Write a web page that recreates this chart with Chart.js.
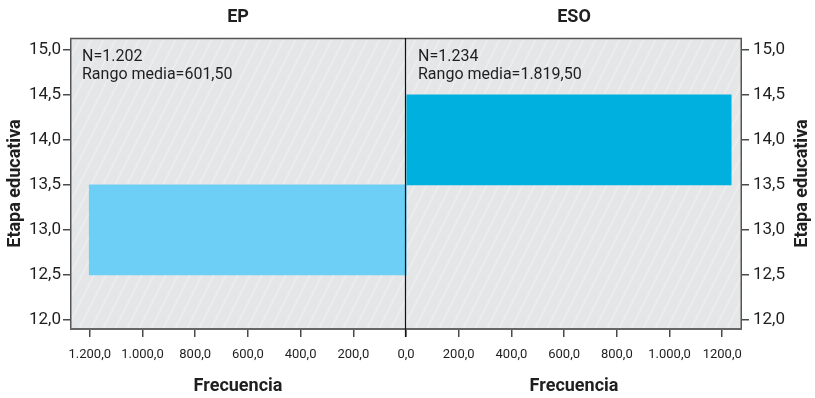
<!DOCTYPE html>
<html>
<head>
<meta charset="utf-8">
<script src="https://cdn.jsdelivr.net/npm/chart.js@4.4.1/dist/chart.umd.min.js"></script>
<style>
  html, body { margin: 0; padding: 0; background: #ffffff; }
  #wrap { position: relative; width: 815px; height: 398px; }
</style>
</head>
<body>
<div id="wrap"><canvas id="c" width="815" height="398"></canvas></div>
<script>
// Etapa educativa bins (centre of each one-unit bin) and counts per group
const etapa = [13, 14];
const epCounts = [1202, 0];
const esoCounts = [0, 1234];

const panelTitles = ['EP', 'ESO'];
const panelNotes = [
  ['N=1.202', 'Rango media=601,50'],
  ['N=1.234', 'Rango media=1.819,50']
];

// Frequency tick labels for 0, 200, ..., 1200
const freqTicks = [0, 200, 400, 600, 800, 1000, 1200];
const leftFreqLabels = ['0,0', '200,0', '400,0', '600,0', '800,0', '1.000,0', '1.200,0'];
const rightFreqLabels = ['', '200,0', '400,0', '600,0', '800,0', '1.000,0', '1200,0'];

const yTitle = 'Etapa educativa';
const xTitle = 'Frecuencia';

const FONT = 'Roboto, "Liberation Sans", sans-serif';
const TEXT = '#1f1f1f';
const AXIS = '#4a4a4a';

function pairs(counts) {
  return etapa.map((e, i) => ({ y: e, x: counts[i] }));
}

const fmtY = v => v.toFixed(1).replace('.', ',');

// panel background, hatch, frame, notes and titles
const panelPlugin = {
  id: 'panels',
  beforeDatasetsDraw(chart) {
    const { ctx, chartArea } = chart;
    ['xL', 'xR'].forEach(id => {
      const s = chart.scales[id];
      const l = s.left, r = s.right, t = chartArea.top, b = chartArea.bottom;
      ctx.save();
      ctx.fillStyle = '#e5e6e7';
      ctx.fillRect(l, t, r - l, b - t);
      ctx.beginPath();
      ctx.rect(l, t, r - l, b - t);
      ctx.clip();
      ctx.strokeStyle = 'rgba(255,255,255,0.5)';
      ctx.lineWidth = 1;
      const h = b - t;
      for (let x = l - h; x < r + h; x += 12) {
        ctx.beginPath();
        ctx.moveTo(x, b);
        ctx.lineTo(x + h * 0.5, t);
        ctx.stroke();
      }
      ctx.restore();
    });
  },
  afterDatasetsDraw(chart) {
    const { ctx, chartArea } = chart;
    const sL = chart.scales.xL, sR = chart.scales.xR;
    const t = chartArea.top, b = chartArea.bottom;
    ctx.save();
    ctx.strokeStyle = '#555555';
    ctx.lineWidth = 1.5;
    ctx.beginPath();
    ctx.moveTo(sL.left + 0.75, b);
    ctx.lineTo(sL.left + 0.75, t + 0.5);
    ctx.lineTo(sR.right - 0.75, t + 0.5);
    ctx.lineTo(sR.right - 0.75, b);
    ctx.stroke();
    ctx.strokeStyle = '#666666';
    ctx.lineWidth = 2;
    ctx.beginPath();
    ctx.moveTo(sL.left, b);
    ctx.lineTo(sR.right, b);
    ctx.stroke();
    // shared zero line between the two panels
    const mid = Math.round(sR.getPixelForValue(0)) - 0.5;
    ctx.strokeStyle = '#111111';
    ctx.lineWidth = 1.2;
    ctx.beginPath();
    ctx.moveTo(mid, t);
    ctx.lineTo(mid, b + 8);
    ctx.stroke();

    ctx.fillStyle = TEXT;
    ctx.font = '16px ' + FONT;
    ctx.textAlign = 'left';
    ctx.textBaseline = 'middle';
    [sL, sR].forEach((s, i) => {
      panelNotes[i].forEach((line, k) => {
        ctx.fillText(line, s.left + 12, t + 19 + k * 18);
      });
    });
    ctx.restore();
  },
  afterDraw(chart) {
    const { ctx, chartArea } = chart;
    const sL = chart.scales.xL, sR = chart.scales.xR;
    ctx.save();
    ctx.fillStyle = TEXT;
    ctx.font = 'bold 18px ' + FONT;
    ctx.textAlign = 'center';
    ctx.textBaseline = 'middle';
    [sL, sR].forEach((s, i) => {
      ctx.fillText(panelTitles[i], (s.left + s.right) / 2, 17);
    });
    // right axis title, reading upwards like the left one
    const y2 = chart.scales.y2;
    ctx.translate(y2.right - 13, (chartArea.top + chartArea.bottom) / 2);
    ctx.rotate(-Math.PI / 2);
    ctx.fillText(yTitle, 0, 0);
    ctx.restore();
  }
};

const xCommon = {
  type: 'linear',
  axis: 'x',
  position: 'bottom',
  stack: 'freq',
  stackWeight: 1,
  min: 0,
  max: 1275,
  border: { display: false },
  grid: { drawOnChartArea: false, drawTicks: true, tickLength: 8, color: AXIS, lineWidth: 1.5 },
  title: {
    display: true,
    text: xTitle,
    color: TEXT,
    font: { family: FONT, size: 18, weight: 'bold' },
    padding: { top: 0, bottom: 1 }
  },
  afterFit(s) { s.height = 69; }
};

function freqLabel(list) {
  return v => {
    const i = freqTicks.indexOf(v);
    return i < 0 ? '' : list[i];
  };
}

function yAxis(position, padding, width) {
  return {
    type: 'linear',
    position: position,
    min: 11.9,
    max: 15.13,
    offset: false,
    border: { display: false },
    grid: { offset: false, drawOnChartArea: false, drawTicks: true, tickLength: 7, color: AXIS, lineWidth: 1.5 },
    ticks: {
      stepSize: 0.5,
      includeBounds: false,
      padding: padding,
      color: TEXT,
      font: { family: FONT, size: 17 },
      callback: fmtY
    },
    afterFit(s) { s.width = width; }
  };
}

const yLeft = yAxis('left', 2, 70);
yLeft.title = {
  display: true,
  text: yTitle,
  color: TEXT,
  font: { family: FONT, size: 18, weight: 'bold' },
  padding: { top: 5, bottom: 0 }
};

new Chart(document.getElementById('c'), {
  type: 'bar',
  data: {
    datasets: [
      {
        label: panelTitles[0],
        data: pairs(epCounts),
        xAxisID: 'xL',
        yAxisID: 'y',
        stack: 'etapa',
        backgroundColor: '#6dcff6',
        borderWidth: 0
      },
      {
        label: panelTitles[1],
        data: pairs(esoCounts),
        xAxisID: 'xR',
        yAxisID: 'y',
        stack: 'etapa',
        backgroundColor: '#00b0de',
        borderWidth: 0
      }
    ]
  },
  options: {
    indexAxis: 'y',
    responsive: false,
    animation: false,
    devicePixelRatio: 1,
    layout: { padding: { top: 38, left: 0, right: 0, bottom: 0 } },
    datasets: {
      bar: {
        barThickness: 'flex',
        categoryPercentage: 1,
        barPercentage: 1
      }
    },
    plugins: {
      legend: { display: false },
      tooltip: { enabled: false },
      title: { display: false }
    },
    scales: {
      xL: Object.assign({}, xCommon, {
        reverse: true,
        ticks: {
          stepSize: 200,
          includeBounds: false,
          autoSkip: false,
          maxRotation: 0,
          padding: 10,
          color: TEXT,
          font: { family: FONT, size: 13 },
          callback: freqLabel(leftFreqLabels)
        }
      }),
      xR: Object.assign({}, xCommon, {
        ticks: {
          stepSize: 200,
          includeBounds: false,
          autoSkip: false,
          maxRotation: 0,
          padding: 10,
          color: TEXT,
          font: { family: FONT, size: 13 },
          callback: freqLabel(rightFreqLabels)
        }
      }),
      y: yLeft,
      y2: yAxis('right', 4, 73)
    }
  },
  plugins: [panelPlugin]
});
</script>
</body>
</html>
